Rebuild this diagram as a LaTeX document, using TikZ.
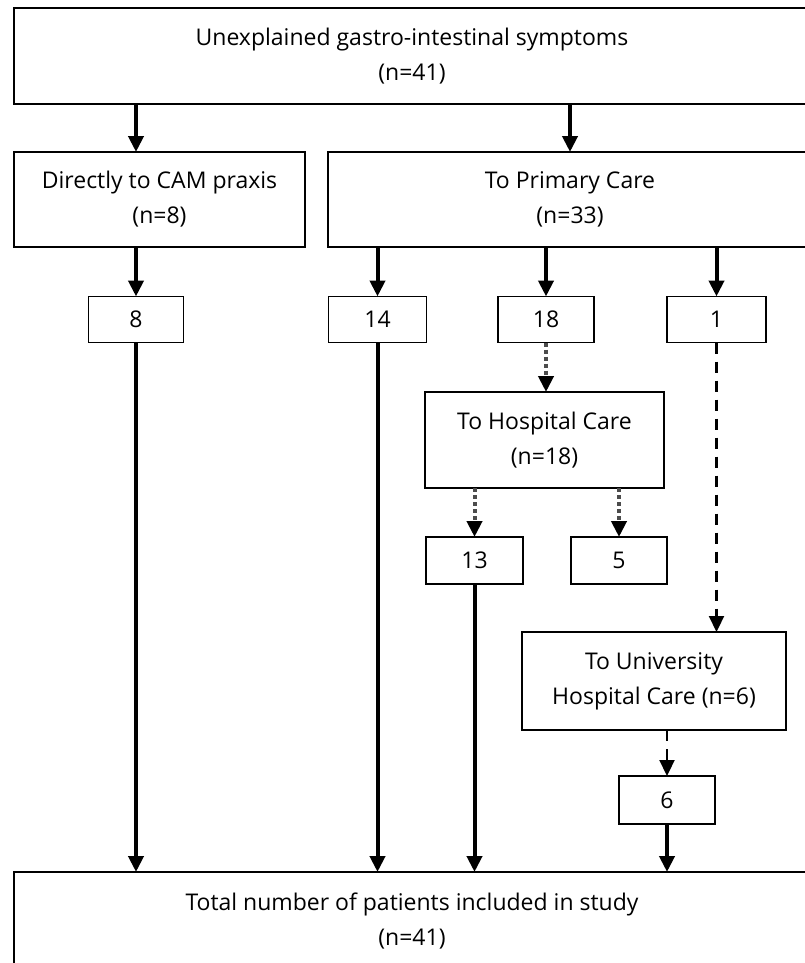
\documentclass[tikz,border=0pt]{standalone}
\usepackage{fontspec}
\setmainfont{Open Sans}
\usetikzlibrary{arrows.meta}
\begin{document}
\begin{tikzpicture}[x=1pt,y=-1pt,
  every node/.style={inner sep=0pt,outer sep=0pt,align=center,font=\fontsize{23}{35}\selectfont},
  bigbox/.style={draw,line width=2.2pt},
  numbox/.style={draw,line width=1.3pt,minimum height=46pt},
  arr/.style={line width=4pt,-{Triangle[length=16pt,width=15pt]}},
  dotarr/.style={line width=4pt,draw=black!70,dash pattern=on 4pt off 3pt,-{Triangle[length=16pt,width=15pt,color=black]}},
  dasharr/.style={line width=2.2pt,dash pattern=on 11pt off 8pt,-{Triangle[length=16pt,width=15pt]}}]
\useasboundingbox (0,0) rectangle (805,963);
\clip (0,0) rectangle (805,963);
\node[bigbox,minimum width=796pt,minimum height=96pt] (top) at (412,56) {Unexplained gastro-intestinal symptoms\\(n=41)};
\node[bigbox,minimum width=291pt,minimum height=95pt] (cam) at (159.5,199.5) {Directly to CAM praxis\\(n=8)};
\node[bigbox,minimum width=484pt,minimum height=95pt] (pc) at (570,199.5) {To Primary Care\\(n=33)};
\node[numbox,minimum width=95pt] (b8) at (136,319.5) {8};
\node[numbox,minimum width=98pt] (b14) at (377.5,319.5) {14};
\node[numbox,minimum width=96pt] (b18) at (546,319.5) {18};
\node[numbox,minimum width=99pt] (b1) at (716.5,319.5) {1};
\node[bigbox,minimum width=239pt,minimum height=96pt] (hosp) at (544.5,440) {To Hospital Care\\(n=18)};
\node[numbox,minimum width=97pt,minimum height=47pt] (b13) at (474.5,560.5) {13};
\node[numbox,minimum width=96pt,minimum height=47pt] (b5) at (619,560.5) {5};
\node[bigbox,minimum width=264pt,minimum height=98pt] (univ) at (654,681) {To University\\Hospital Care (n=6)};
\node[numbox,minimum width=96pt,minimum height=48pt] (b6) at (667,800) {6};
\node[bigbox,minimum width=796pt,minimum height=98pt] (tot) at (412,921) {Total number of patients included in study\\(n=41)};
\draw[arr] (top.south -| b8) -- (cam.north -| b8);
\draw[arr] (top.south -| pc) -- (pc.north);
\draw[arr] (cam.south -| b8) -- (b8.north);
\draw[arr] (pc.south -| b14) -- (b14.north);
\draw[arr] (pc.south -| b18) -- (b18.north);
\draw[arr] (pc.south -| b1) -- (b1.north);
\draw[dotarr] (b18.south) -- (hosp.north -| b18);
\draw[dotarr] (hosp.south -| b13) -- (b13.north);
\draw[dotarr] (hosp.south -| b5) -- (b5.north);
\draw[dasharr] (b1.south) -- (univ.north -| b1);
\draw[dasharr] (univ.south -| b6) -- (b6.north);
\draw[arr] (b8.south) -- (tot.north -| b8);
\draw[arr] (b14.south) -- (tot.north -| b14);
\draw[arr] (b13.south) -- (tot.north -| b13);
\draw[arr] (b6.south) -- (tot.north -| b6);
\end{tikzpicture}
\end{document}
